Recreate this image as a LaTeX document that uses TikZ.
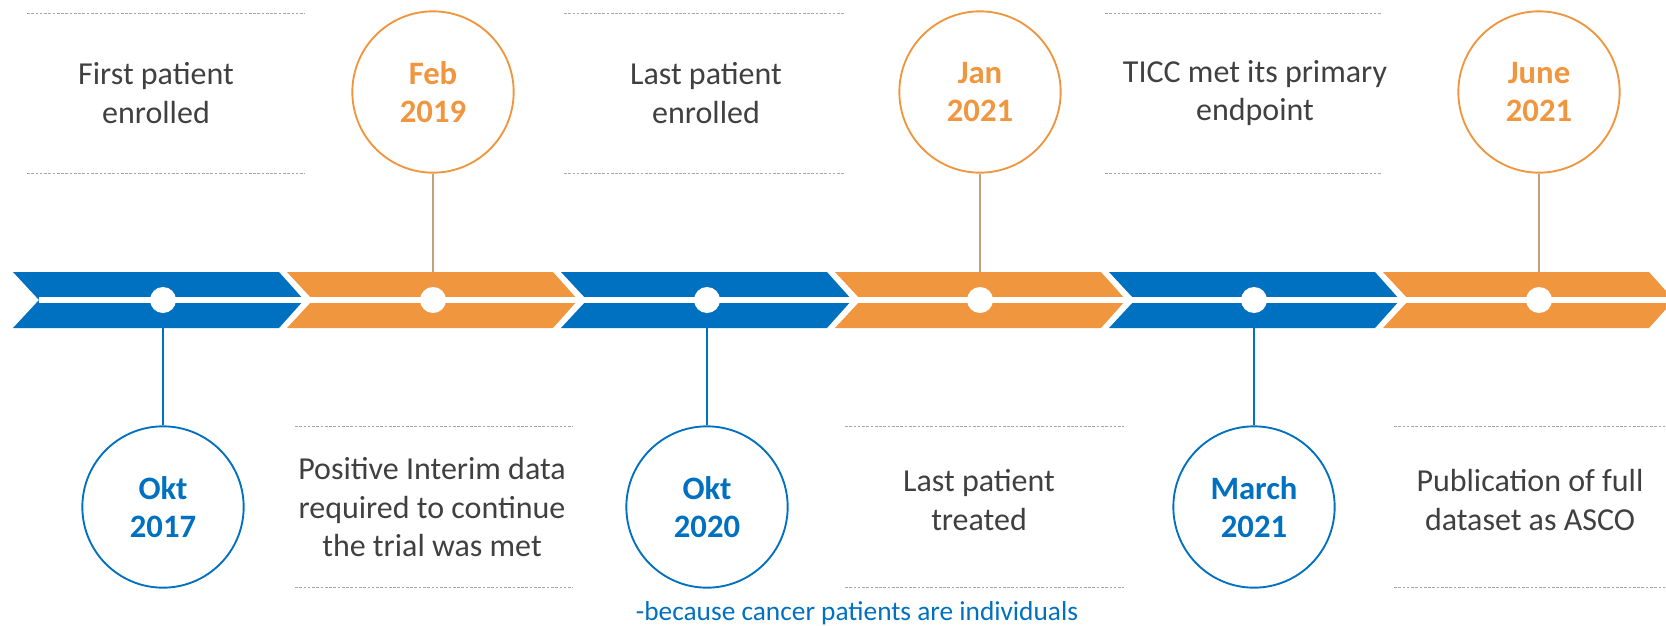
\documentclass[tikz,border=0pt]{standalone}
\usepackage{fontspec}
\setmainfont{Carlito}
\definecolor{tlblue}{HTML}{0070C0}
\definecolor{tlorange}{HTML}{F0963F}
\definecolor{tltext}{HTML}{404040}
\definecolor{tlrule}{HTML}{A6A6A6}
\definecolor{tltan}{HTML}{C3A07C}
\tikzset{
  datecirc/.style={circle, draw=#1, line width=1.4pt, fill=white,
    minimum size=121pt, inner sep=0pt, text=#1, align=center,
    font=\fontsize{24.5}{28.5}\selectfont\bfseries},
  event/.style={text=tltext, align=center,
    font=\fontsize{24}{29}\selectfont},
  sep/.style={draw=tlrule, dash pattern=on 2pt off 1.2pt, line width=0.6pt},
  tick/.style={line width=0.9pt},
  dot/.style={circle, fill=white, minimum size=19.5pt, inner sep=0pt}
}

\begin{document}
\begin{tikzpicture}[x=0.75pt, y=-0.75pt]
    \useasboundingbox (0,0) rectangle (1666,625);
    \clip (0,0) rectangle (1666,625);

    % chevron band
    \foreach \i/\col in {0/tlblue,1/tlorange,2/tlblue,3/tlorange,4/tlblue,5/tlorange}
    {\fill[\col] (13+274*\i,272) -- ++(266,0) -- ++(25,28) -- ++(-25,28)
      -- ++(-266,0) -- ++(26,-28) -- cycle ;
    }
    \draw[white, line width=4.2pt] (39,300) -- (1666,300) ;

    % points on the band
    \node[dot] (d1) at (163,300) {} ;
    \node[dot] (d2) at (433,300) {} ;
    \node[dot] (d3) at (707,300) {} ;
    \node[dot] (d4) at (980,300) {} ;
    \node[dot] (d5) at (1254,300) {} ;
    \node[dot] (d6) at (1539,300) {} ;
    \coordinate (b1) at (163,328) ;
    \coordinate (t2) at (433,272) ;
    \coordinate (b3) at (707,328) ;
    \coordinate (t4) at (980,272) ;
    \coordinate (b5) at (1254,328) ;
    \coordinate (t6) at (1539,272) ;

    % dates
    \node[datecirc=tlblue] (okt17) at (163,507) {Okt\\2017} ;
    \node[datecirc=tlorange] (feb19) at (433,92) {Feb\\2019} ;
    \node[datecirc=tlblue] (okt20) at (707,507) {Okt\\2020} ;
    \node[datecirc=tlorange] (jan21) at (980,92) {Jan\\2021} ;
    \node[datecirc=tlblue] (mar21) at (1254,507) {March\\2021} ;
    \node[datecirc=tlorange] (jun21) at (1539,92) {June\\2021} ;

    \draw[tick, tlblue] (b1) -- (okt17) ;
    \draw[tick, tltan] (t2) -- (feb19) ;
    \draw[tick, tlblue] (b3) -- (okt20) ;
    \draw[tick, tltan] (t4) -- (jan21) ;
    \draw[tick, tlblue] (b5) -- (mar21) ;
    \draw[tick, tltan] (t6) -- (jun21) ;

    % events
    \node[event] (ev1) at (156,93) {First patient\\enrolled} ;
    \node[event] (ev2) at (432,507) {Positive Interim data\\required to continue\\the trial was met} ;
    \node[event] (ev3) at (706,93) {Last patient\\enrolled} ;
    \node[event] (ev4) at (979,500) {Last patient\\treated} ;
    \node[event] (ev5) at (1255,93) {TICC met its primary\\endpoint} ;
    \node[event] (ev6) at (1530,500) {Publication of full\\dataset as ASCO} ;

    \draw[sep] (27,13) -- (305,13) ;
    \draw[sep] (27,173) -- (305,173) ;
    \draw[sep] (564,13) -- (845,13) ;
    \draw[sep] (564,173) -- (845,173) ;
    \draw[sep] (1105,13) -- (1381,13) ;
    \draw[sep] (1105,173) -- (1381,173) ;
    \draw[sep] (295,426) -- (573,426) ;
    \draw[sep] (295,587) -- (573,587) ;
    \draw[sep] (845,426) -- (1124,426) ;
    \draw[sep] (845,587) -- (1124,587) ;
    \draw[sep] (1394,426) -- (1672,426) ;
    \draw[sep] (1394,587) -- (1672,587) ;

    \node[text=tlblue, font=\fontsize{20.5}{24}\selectfont] (note) at (857,613)
    {-because cancer patients are individuals} ;
\end{tikzpicture}
\end{document}
